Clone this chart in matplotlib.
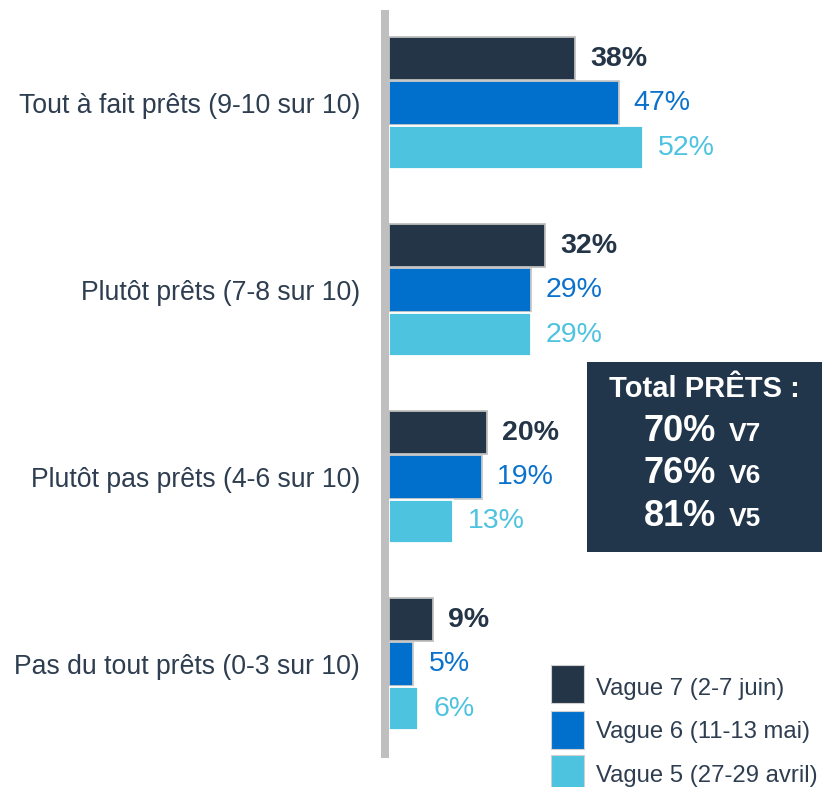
import matplotlib
matplotlib.use("Agg")
import matplotlib.pyplot as plt
from matplotlib.patches import Rectangle
import numpy as np

plt.rcParams['font.family'] = ['Liberation Sans', 'DejaVu Sans']

categories = ["Tout à fait prêts (9-10 sur 10)", "Plutôt prêts (7-8 sur 10)",
              "Plutôt pas prêts (4-6 sur 10)", "Pas du tout prêts (0-3 sur 10)"]
series_names = ["Vague 7 (2-7 juin)", "Vague 6 (11-13 mai)", "Vague 5 (27-29 avril)"]
v7 = [38, 32, 20, 9]
v6 = [47, 29, 19, 5]
v5 = [52, 29, 13, 6]
totals = ["70%", "76%", "81%"]
total_tags = ["V7", "V6", "V5"]
box_title = "Total PRÊTS :"

colors = ["#253548", "#0070CC", "#4DC3E0"]
edgecols = ["#BFBFBF", "#C8C8C8", "#FFFFFF"]
label_colors = ["#253548", "#0A72CC", "#4DC3E0"]
label_weights = ["bold", "normal", "normal"]
text_col = "#2E3E50"

W, H = 823, 787
fig = plt.figure(figsize=(W / 100, H / 100), dpi=100)

def fx(p):
    return p / W

def fy(p):
    return 1 - p / H

px_per_unit = 4.885
ax_left_px = 381
ax = fig.add_axes([fx(ax_left_px), 0, 1 - fx(ax_left_px), 1])
x0 = -(389 - ax_left_px) / px_per_unit
ax.set_xlim(x0, x0 + (W - ax_left_px) / px_per_unit)
cat_pix0, cat_step = 103, 187
ax.set_ylim((H - cat_pix0) / cat_step, -cat_pix0 / cat_step)

y = np.arange(len(categories))
off = 44.5 / cat_step
bh = 43.5 / cat_step
all_series = [v7, v6, v5]
offsets = [-off, 0, off]
for vals, o, c, ec, lc, lw in zip(all_series, offsets, colors, edgecols, label_colors, label_weights):
    bars = ax.barh(y + o, vals, height=bh, color=c, edgecolor=ec, linewidth=1.3, zorder=2)
    for b, v in zip(bars, vals):
        ax.annotate(f"{v}%", (b.get_width(), b.get_y() + b.get_height() / 2),
                    xytext=(11, 0), textcoords="offset points",
                    ha="left", va="center", fontsize=20.5, color=lc, fontweight=lw)

# vertical axis line (gray)
ax.axvspan(x0, 0, ymin=1 - 757.5 / H, ymax=1 - 9.5 / H, color="#BFBFBF", lw=0, zorder=3)

ax.set_yticks(y)
ax.set_yticklabels(categories, fontsize=19.2, color=text_col)
ax.tick_params(axis="y", length=0, pad=15)
ax.set_xticks([])
for s in ax.spines.values():
    s.set_visible(False)
ax.patch.set_visible(False)

# Total box
fig.add_artist(Rectangle((fx(587), fy(552)), fx(822 - 587), (552 - 362) / H,
                         transform=fig.transFigure, color="#22364B", lw=0, zorder=5))
cx = 704.5
fig.text(fx(cx), fy(396.7), box_title, ha="center", va="baseline", fontsize=21,
         color="white", fontweight="bold", zorder=6)
for t, tag, base in zip(totals, total_tags, [441, 483, 525.7]):
    fig.text(fx(716), fy(base), t, ha="right", va="baseline", fontsize=26,
             color="white", fontweight="bold", zorder=6)
    fig.text(fx(728.5), fy(base), tag, ha="left", va="baseline", fontsize=19,
             color="white", fontweight="bold", zorder=6)

# Legend
sq_tops = [665, 710.5, 755]
baselines = [695, 738.3, 781.7]
for name, c, top, base in zip(series_names, colors, sq_tops, baselines):
    fig.add_artist(Rectangle((fx(551), fy(top + 38)), fx(33), 38 / H,
                             transform=fig.transFigure, facecolor=c,
                             edgecolor="#D0D0D0", lw=0.8, zorder=5))
    fig.text(fx(596.5), fy(base), name, ha="left", va="baseline", fontsize=17.2,
             color=text_col, zorder=6)

fig.savefig("out.png", dpi=100)
